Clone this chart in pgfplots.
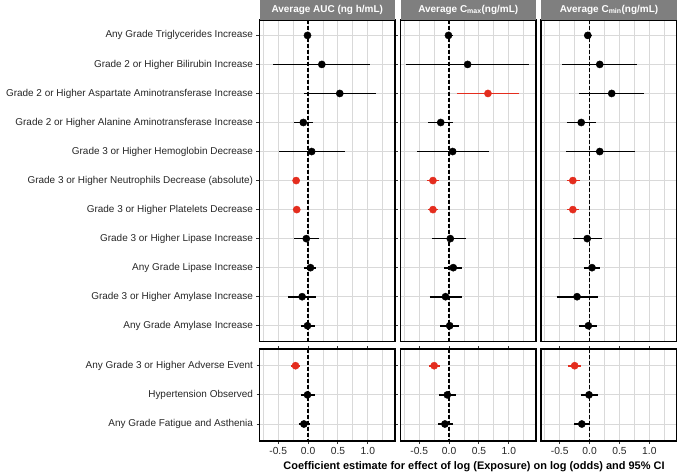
\documentclass[border=0pt]{standalone}
\usepackage{fontspec}
\setmainfont{Liberation Sans}
\usepackage{pgfplots}
\usepackage{pgfplotstable}
\pgfplotsset{compat=1.18}

\definecolor{sigred}{RGB}{228,45,30}
\definecolor{hdrgray}{RGB}{127,127,127}

% columns: row, estimate, lower CI, upper CI, flagged (red)
\pgfplotstableread{
y est lo hi red
1 -0.01 -0.05 0.03 0
2 0.23 -0.58 1.03 0
3 0.53 -0.07 1.14 0
4 -0.08 -0.24 0.08 0
5 0.06 -0.49 0.61 0
6 -0.20 -0.26 -0.13 1
7 -0.19 -0.25 -0.13 1
8 -0.03 -0.24 0.19 0
9 0.04 -0.07 0.14 0
10 -0.10 -0.34 0.14 0
11 -0.01 -0.12 0.11 0
}\aucTop
\pgfplotstableread{
y est lo hi red
1 -0.21 -0.28 -0.13 1
2 -0.01 -0.12 0.11 0
3 -0.07 -0.16 0.03 0
}\aucBot
\pgfplotstableread{
y est lo hi red
1 -0.01 -0.07 0.07 0
2 0.31 -0.72 1.33 0
3 0.65 0.13 1.17 1
4 -0.14 -0.35 0.07 0
5 0.06 -0.54 0.66 0
6 -0.27 -0.37 -0.17 1
7 -0.27 -0.35 -0.18 1
8 0.02 -0.29 0.29 0
9 0.07 -0.08 0.22 0
10 -0.06 -0.32 0.22 0
11 0.01 -0.15 0.17 0
}\cmaxTop
\pgfplotstableread{
y est lo hi red
1 -0.25 -0.33 -0.15 1
2 -0.03 -0.17 0.11 0
3 -0.07 -0.18 0.06 0
}\cmaxBot
\pgfplotstableread{
y est lo hi red
1 -0.03 -0.09 0.04 0
2 0.17 -0.46 0.79 0
3 0.37 -0.18 0.91 0
4 -0.14 -0.38 0.11 0
5 0.17 -0.39 0.76 0
6 -0.28 -0.38 -0.16 1
7 -0.28 -0.37 -0.18 1
8 -0.04 -0.27 0.21 0
9 0.04 -0.09 0.17 0
10 -0.21 -0.55 0.14 0
11 -0.02 -0.17 0.12 0
}\cminTop
\pgfplotstableread{
y est lo hi red
1 -0.25 -0.36 -0.14 1
2 -0.01 -0.14 0.14 0
3 -0.13 -0.26 0.00 0
}\cminBot

\tikzset{zero/.style={line width=1.3bp, dash pattern=on 3.5bp off 2.5bp}}
\pgfplotsset{
  panel/.style={
    anchor=north west, scale only axis, width=135.5bp,
    xmin=-0.813, xmax=1.454, y dir=reverse,
    axis line style={line width=1.2bp, black},
    xtick={-0.5,0,0.5,1}, xticklabels={-0.5,0.0,0.5,1.0},
    minor xtick={-0.75,-0.25,0.25,0.75,1.25},
    xmajorgrids, xminorgrids, ymajorgrids,
    major grid style={line width=1bp, gray!30},
    minor grid style={line width=1bp, gray!30},
    tick align=outside, major tick length=3bp, minor tick length=0pt,
    tick style={line width=1bp, black!80},
    xticklabel style={font=\fontsize{10.3}{12}\selectfont, text=black!85},
    yticklabel style={font=\fontsize{10}{12}\selectfont, text=black!85},
    yticklabels={},
  },
  toprow/.style={panel, height=321.7bp, ymin=0.47, ymax=11.55,
    ytick={1,...,11}, xticklabels={}, x tick style={draw=none}},
  botrow/.style={panel, height=92bp, ymin=0.427, ymax=3.583, ytick={1,2,3}},
  noy/.style={y tick style={draw=none}},
  % confidence interval: segment from lo to hi
  cibar/.style={#1, line width=1.7bp, mark=none,
    quiver={u=\thisrow{hi}-\thisrow{lo}, v=0,
      every arrow/.append style={line width=1.7bp, #1}}},
  est/.style={only marks, mark=*, mark size=3.6bp, #1, mark options={#1}},
  isred/.style={x filter/.expression={\thisrow{red}>0 ? x : nan}},
  isblk/.style={x filter/.expression={\thisrow{red}>0 ? nan : x}},
}
\newcommand{\forest}[3]{% #1 table, #2 ymin, #3 ymax
  \draw[zero] (axis cs:0,#2) -- (axis cs:0,#3);
  \addplot[isblk, cibar=black] table[x=lo, y=y] {#1};
  \addplot[isred, cibar=sigred] table[x=lo, y=y] {#1};
  \addplot[isblk, est=black] table[x=est, y=y] {#1};
  \addplot[isred, est=sigred] table[x=est, y=y] {#1};
}

\begin{document}
\begin{tikzpicture}
% top row
\begin{axis}[toprow, at={(259.5bp,-20bp)},
  yticklabels={Any Grade Triglycerides Increase,
    Grade 2 or Higher Bilirubin Increase,
    Grade 2 or Higher Aspartate Aminotransferase Increase,
    Grade 2 or Higher Alanine Aminotransferase Increase,
    Grade 3 or Higher Hemoglobin Decrease,
    Grade 3 or Higher Neutrophils Decrease (absolute),
    Grade 3 or Higher Platelets Decrease,
    Grade 3 or Higher Lipase Increase,
    Any Grade Lipase Increase,
    Grade 3 or Higher Amylase Increase,
    Any Grade Amylase Increase}]
\forest{\aucTop}{0.47}{11.55}
\end{axis}
\begin{axis}[toprow, noy, at={(400.5bp,-20bp)}]
\forest{\cmaxTop}{0.47}{11.55}
\end{axis}
\begin{axis}[toprow, noy, at={(541bp,-20bp)}]
\forest{\cminTop}{0.47}{11.55}
\end{axis}
% bottom row
\begin{axis}[botrow, at={(259.5bp,-349bp)},
  yticklabels={Any Grade 3 or Higher Adverse Event,
    Hypertension Observed,
    Any Grade Fatigue and Asthenia}]
\forest{\aucBot}{0.427}{3.583}
\end{axis}
\begin{axis}[botrow, noy, at={(400.5bp,-349bp)}]
\forest{\cmaxBot}{0.427}{3.583}
\end{axis}
\begin{axis}[botrow, noy, at={(541bp,-349bp)}]
\forest{\cminBot}{0.427}{3.583}
\end{axis}
% strip headers
\fill[hdrgray] (259.5bp,0) rectangle (395bp,-19.5bp);
\fill[hdrgray] (400.5bp,0) rectangle (536bp,-19.5bp);
\fill[hdrgray] (541bp,0) rectangle (677bp,-19.5bp);
\begin{scope}[every node/.style={text=white, font=\bfseries\fontsize{10}{12}\selectfont}]
\node at (327.25bp,-9.75bp) {Average AUC (ng h/mL)};
\node at (468.25bp,-9.75bp) {Average C\textsubscript{max}(ng/mL)};
\node at (609bp,-9.75bp) {Average C\textsubscript{min}(ng/mL)};
\end{scope}
\node[font=\bfseries\fontsize{11}{13}\selectfont] at (474bp,-467bp)
  {Coefficient estimate for effect of log (Exposure) on log (odds) and 95\% CI};
\pgfresetboundingbox
\path[use as bounding box] (0,0) rectangle (677bp,-474bp);
\end{tikzpicture}
\end{document}
